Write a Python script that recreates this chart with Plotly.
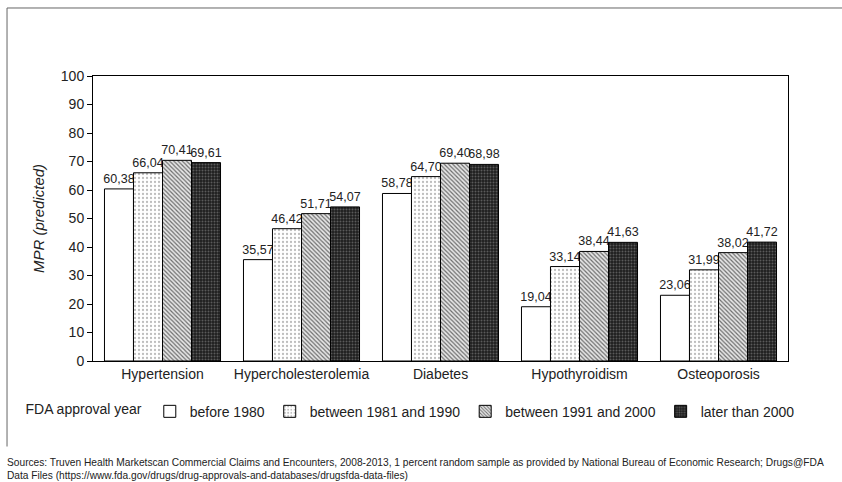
import plotly.graph_objects as go

categories = ["Hypertension", "Hypercholesterolemia", "Diabetes", "Hypothyroidism", "Osteoporosis"]
series_names = ["before 1980", "between 1981 and 1990", "between 1991 and 2000", "later than 2000"]
before_1980 = [60.38, 35.57, 58.78, 19.04, 23.06]
between_1981_1990 = [66.04, 46.42, 64.70, 33.14, 31.99]
between_1991_2000 = [70.41, 51.71, 69.40, 38.44, 38.02]
later_2000 = [69.61, 54.07, 68.98, 41.63, 41.72]
y_ticks = [0, 10, 20, 30, 40, 50, 60, 70, 80, 90, 100]

series_values = [before_1980, between_1981_1990, between_1991_2000, later_2000]
patterns = [
    dict(shape="", bgcolor="white"),
    dict(shape=".", fgcolor="#bdbdbd", bgcolor="white", size=4, solidity=0.25, fillmode="replace"),
    dict(shape="\\", fgcolor="#6e6e6e", bgcolor="#e6e6e6", size=3, solidity=0.4, fillmode="replace"),
    dict(shape=".", fgcolor="#5a5a5a", bgcolor="#1e1e1e", size=3, solidity=0.35, fillmode="replace"),
]

FONT = "Liberation Sans, Arial, sans-serif"

fig = go.Figure()
for name, vals, pat in zip(series_names, series_values, patterns):
    fig.add_trace(go.Bar(
        x=categories, y=vals, name=name,
        marker=dict(color="white", line=dict(color="black", width=1), pattern=pat),
        texttemplate="%{y:.2f}", textposition="outside", constraintext="none",
        textfont=dict(size=12.5, color="#222", family=FONT),
        cliponaxis=False,
    ))

fig.update_layout(
    width=842, height=482,
    margin=dict(l=93, r=54, t=76, b=121, autoexpand=False),
    paper_bgcolor="white", plot_bgcolor="white",
    separators=", ",
    barmode="group", bargap=0.165, bargroupgap=0,
    font=dict(family=FONT, size=14, color="#222"),
    showlegend=True,
    legend=dict(
        orientation="h", x=-0.1, xanchor="left", y=-0.178, yanchor="middle",
        title=dict(text="FDA approval year", side="left", font=dict(size=14)),
        font=dict(size=14), itemwidth=30, tracegroupgap=0,
    ),
    xaxis=dict(
        showline=True, linecolor="black", linewidth=1, mirror=True,
        ticks="", tickfont=dict(size=14), showgrid=False,
    ),
    yaxis=dict(
        range=[0, 100], tickvals=y_ticks, showline=True, linecolor="black", linewidth=1,
        mirror=True, ticks="outside", ticklen=5, tickcolor="black",
        showgrid=False, zeroline=False, tickfont=dict(size=14),
        title=dict(text="MPR (predicted)", font=dict(size=15, style="italic"), standoff=12),
    ),
    shapes=[
        dict(type="line", xref="paper", yref="paper", x0=-0.1237, x1=-0.1237, y0=1.2386, y1=-0.3,
             line=dict(color="#666", width=1)),
        dict(type="line", xref="paper", yref="paper", x0=-0.1237, x1=1.2, y0=1.2386, y1=1.2386,
             line=dict(color="#666", width=1)),
    ],
    annotations=[
        dict(xref="paper", yref="paper", x=-0.127, y=-0.33, xanchor="left", yanchor="top",
             align="left", showarrow=False, font=dict(size=10.2, color="#222"),
             text="Sources: Truven Health Marketscan Commercial Claims and Encounters, 2008-2013, 1 percent random sample as provided by National Bureau of Economic Research; Drugs@FDA<br>Data Files (https://www.fda.gov/drugs/drug-approvals-and-databases/drugsfda-data-files)"),
    ],
)

fig.write_html("out.html", config={"displayModeBar": False},
               post_script="document.body.style.margin='0';document.body.style.padding='0';")
